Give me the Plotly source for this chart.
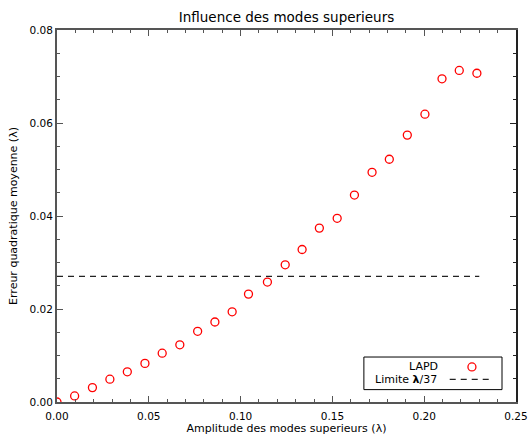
import plotly.graph_objects as go

# Data
amplitude = [0.0, 0.0096, 0.0193, 0.0288, 0.0383, 0.0479, 0.0573, 0.0669, 0.0766,
             0.0860, 0.0954, 0.1043, 0.1146, 0.1243, 0.1335, 0.1429, 0.1526, 0.1620,
             0.1716, 0.1810, 0.1908, 0.2004, 0.2097, 0.2191, 0.2287]
erreur = [0.0, 0.0013, 0.0031, 0.0049, 0.0065, 0.0083, 0.0105, 0.0123, 0.0152,
          0.0172, 0.0194, 0.0232, 0.0258, 0.0295, 0.0328, 0.0374, 0.0395, 0.0445,
          0.0494, 0.0522, 0.0574, 0.0619, 0.0695, 0.0713, 0.0707]
limite_x = [0.0, 0.23]
limite_y = [1 / 37, 1 / 37]
x_range = [0, 0.25]
y_range = [0, 0.08]

FONT = "DejaVu Sans"
AX = "#555555"

fig = go.Figure()
fig.add_trace(go.Scatter(
    x=amplitude, y=erreur, mode="markers", name="LAPD",
    marker=dict(symbol="circle-open", size=8, color="#ff0000", line=dict(width=1.3, color="#ff0000")),
    cliponaxis=True, showlegend=False, hoverinfo="x+y"))
fig.add_trace(go.Scatter(
    x=limite_x, y=limite_y, mode="lines", name="Limite λ/37",
    line=dict(color="#222222", width=1.3, dash="6px,5px"), showlegend=False))
# invisible helper so the mirrored (top/right) axes are drawn
fig.add_trace(go.Scatter(
    x=limite_x, y=limite_y, mode="lines", xaxis="x2", yaxis="y2",
    line=dict(width=0, color="rgba(0,0,0,0)"), showlegend=False, hoverinfo="skip"))

tickfont = dict(family=FONT, size=10.5, color="black")
titlefont = dict(family=FONT, size=11, color="black")

def ax(color, **kw):
    d = dict(showline=True, linecolor=color, linewidth=2,
             ticks="inside", ticklen=6, tickwidth=1.2, tickcolor=color,
             showgrid=False, zeroline=False, automargin=False, tickfont=tickfont)
    d.update(kw)
    return d

xminor = dict(ticks="inside", ticklen=3, dtick=0.01, tick0=0, tickcolor=AX, tickwidth=1.2, showgrid=False)
yminor = dict(ticks="inside", ticklen=3, dtick=0.005, tick0=0, tickcolor=AX, tickwidth=1.2, showgrid=False)
yminor_r = dict(yminor, tickcolor="#222222")

fig.update_layout(
    xaxis=ax(AX, range=x_range, dtick=0.05, tick0=0, tickformat=".2f", minor=xminor,
             ticklabelstandoff=3,
             title=dict(text="Amplitude des modes superieurs (λ)", standoff=4, font=titlefont)),
    yaxis=ax(AX, range=y_range, dtick=0.02, tick0=0, tickformat=".2f", minor=yminor,
             title=dict(text="Erreur quadratique moyenne (λ)", standoff=10, font=titlefont)),
    xaxis2=ax(AX, range=x_range, dtick=0.05, tick0=0, minor=xminor, overlaying="x",
              side="top", anchor="y", showticklabels=False),
    yaxis2=ax("#222222", range=y_range, dtick=0.02, tick0=0, minor=yminor_r, overlaying="y",
              side="right", anchor="x", showticklabels=False),
)

# Legend drawn IDL-style (text on the left, symbol on the right)
shapes = [
    dict(type="rect", xref="paper", yref="paper", x0=0.6686, x1=0.9695, y0=0.0333, y1=0.1209,
         line=dict(color="black", width=1), fillcolor="white", layer="above"),
    dict(type="circle", xref="paper", yref="paper", xsizemode="pixel", ysizemode="pixel",
         xanchor=0.904, yanchor=0.0943, x0=-4, x1=4, y0=-4, y1=4,
         line=dict(color="#ff0000", width=1.3), layer="above"),
    dict(type="line", xref="paper", yref="paper", x0=0.8556, x1=0.9419, y0=0.061, y1=0.061,
         line=dict(color="#222222", width=1.3, dash="6px,5px"), layer="above"),
]
annotations = [
    dict(text="LAPD", xref="paper", yref="paper", x=0.798, y=0.0943, showarrow=False,
         xanchor="center", yanchor="middle", font=dict(family=FONT, size=11, color="black")),
    dict(text="Limite <b>λ</b>/37", xref="paper", yref="paper", x=0.6876, y=0.061, showarrow=False,
         xanchor="left", yanchor="middle", font=dict(family=FONT, size=11, color="black")),
]

fig.update_layout(
    width=528, height=437,
    margin=dict(l=57, r=12, t=30, b=35),
    paper_bgcolor="white", plot_bgcolor="white",
    title=dict(text="Influence des modes superieurs", x=0.5, xref="paper",
               y=1 - 17 / 437, yref="container", yanchor="middle", xanchor="center",
               font=dict(family=FONT, size=13.5, color="black")),
    shapes=shapes, annotations=annotations, showlegend=False,
)

fig.write_html("out.html", config={"displayModeBar": False},
               post_script="document.body.style.margin='0';")
